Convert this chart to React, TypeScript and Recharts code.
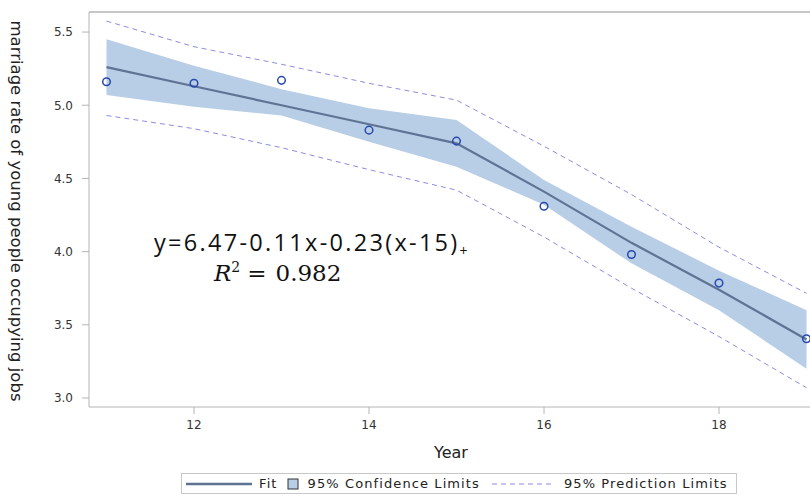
import {
  ComposedChart,
  Area,
  Line,
  Scatter,
  XAxis,
  YAxis,
  ReferenceLine,
} from "recharts";

// year index (20xx) on the x axis
const YEARS = [11, 12, 13, 14, 15, 16, 17, 18, 19];
const OBSERVED = [5.16, 5.15, 5.17, 4.83, 4.755, 4.31, 3.98, 3.785, 3.405];
const FIT = [5.26, 5.13, 5.0, 4.87, 4.74, 4.41, 4.06, 3.74, 3.4];
const CI_LOW = [5.07, 4.99, 4.93, 4.75, 4.58, 4.32, 3.92, 3.6, 3.2];
const CI_HIGH = [5.45, 5.27, 5.11, 4.98, 4.9, 4.49, 4.17, 3.87, 3.6];
const PI_LOW = [4.93, 4.84, 4.71, 4.56, 4.42, 4.1, 3.75, 3.42, 3.07];
const PI_HIGH = [5.575, 5.4, 5.28, 5.15, 5.035, 4.72, 4.39, 4.03, 3.715];

const X_TICKS = [12, 14, 16, 18];
const Y_TICKS = [3.0, 3.5, 4.0, 4.5, 5.0, 5.5];
const X_DOMAIN: [number, number] = [10.8, 19.04];
const Y_MIN = 2.9385;
const Y_MAX = 5.637;

const data = YEARS.map((year, i) => ({
  year,
  obs: OBSERVED[i],
  fit: FIT[i],
  ci: [CI_LOW[i], CI_HIGH[i]],
  piLow: PI_LOW[i],
  piHigh: PI_HIGH[i],
}));

const FRAME = "#b4b4b4";
const BAND = "#b8cde6";
const FIT_COLOR = "#5f7393";
const PI_COLOR = "#8c8ce0";
const DOT_COLOR = "#2748ae";
const SANS = "'DejaVu Sans', Verdana, sans-serif";

const tickStyle = { fill: "#333", fontSize: 12, fontFamily: SANS };

export default function App() {
  return (
    <div
      style={{
        position: "absolute",
        left: 0,
        top: 0,
        width: 810,
        height: 496,
        background: "#fff",
      }}
    >
      <ComposedChart
        width={810}
        height={496}
        data={data}
        margin={{ top: 12, right: 0, bottom: 49, left: 0 }}
      >
        <XAxis
          dataKey="year"
          type="number"
          domain={X_DOMAIN}
          ticks={X_TICKS}
          allowDataOverflow
          height={40}
          tickSize={7}
          tickMargin={6}
          stroke={FRAME}
          tick={tickStyle}
        />
        <YAxis
          type="number"
          domain={[Y_MIN, Y_MAX]}
          ticks={Y_TICKS}
          allowDataOverflow
          width={89}
          tickSize={7}
          tickMargin={9}
          stroke={FRAME}
          tick={tickStyle}
          tickFormatter={(v: number) => v.toFixed(1)}
        />
        <ReferenceLine y={Y_MAX} stroke={FRAME} strokeWidth={1.5} />
        <Area
          dataKey="ci"
          type="linear"
          fill={BAND}
          fillOpacity={1}
          stroke="none"
          isAnimationActive={false}
        />
        <Line
          dataKey="piHigh"
          type="linear"
          stroke={PI_COLOR}
          strokeWidth={1}
          strokeDasharray="5 4"
          dot={false}
          isAnimationActive={false}
        />
        <Line
          dataKey="piLow"
          type="linear"
          stroke={PI_COLOR}
          strokeWidth={1}
          strokeDasharray="5 4"
          dot={false}
          isAnimationActive={false}
        />
        <Line
          dataKey="fit"
          type="linear"
          stroke={FIT_COLOR}
          strokeWidth={2.2}
          dot={false}
          isAnimationActive={false}
        />
        <Scatter
          dataKey="obs"
          fill="none"
          isAnimationActive={false}
          shape={(p: any) => (
            <circle
              cx={p.cx}
              cy={p.cy}
              r={3.8}
              fill="none"
              stroke={DOT_COLOR}
              strokeWidth={1.5}
            />
          )}
        />
      </ComposedChart>

      {/* axis titles and fitted equation */}
      <svg
        width={810}
        height={496}
        style={{ position: "absolute", left: 0, top: 0, pointerEvents: "none" }}
      >
        <text
          transform="translate(11, 211) rotate(90)"
          textAnchor="middle"
          fontFamily={SANS}
          fontSize={16.5}
          fill="#222"
        >
          marriage rate of young people occupying jobs
        </text>
        <text
          x={451}
          y={458}
          textAnchor="middle"
          fontFamily={SANS}
          fontSize={16}
          fill="#222"
        >
          Year
        </text>
        <text
          x={154}
          y={251}
          fontFamily="'Open Sans', sans-serif"
          fontSize={23.5}
          letterSpacing={2.3}
          fill="#111"
        >
          y=6.47-0.11x-0.23(x-15)
          <tspan fontSize={14} dy={5} letterSpacing={0}>+</tspan>
        </text>
        <text x={214} y={281} fontFamily="'DejaVu Serif', serif" fontSize={23} fill="#111">
          <tspan fontStyle="italic">R</tspan>
          <tspan fontSize={14} dy={-9}>2</tspan>
          <tspan dy={9} dx={7}>=</tspan>
          <tspan dx={9}>0.982</tspan>
        </text>
      </svg>

      {/* legend */}
      <div
        style={{
          position: "absolute",
          left: 181,
          top: 473,
          width: 556,
          height: 21,
          border: "1px solid #c8c8c8",
          display: "flex",
          alignItems: "center",
          fontFamily: SANS,
          fontSize: 13,
          letterSpacing: 1.1,
          color: "#222",
          boxSizing: "border-box",
          whiteSpace: "nowrap",
        }}
      >
        <svg width={68} height={10} style={{ marginLeft: 4 }}>
          <line x1={0} y1={5} x2={66} y2={5} stroke={FIT_COLOR} strokeWidth={2.5} />
        </svg>
        <span style={{ marginLeft: 5 }}>Fit</span>
        <svg width={12} height={12} style={{ marginLeft: 9 }}>
          <rect x={1} y={1} width={10} height={10} fill={BAND} stroke="#333" strokeWidth={1} />
        </svg>
        <span style={{ marginLeft: 9 }}>95% Confidence Limits</span>
        <svg width={62} height={10} style={{ marginLeft: 12 }}>
          <line x1={0} y1={5} x2={60} y2={5} stroke={PI_COLOR} strokeWidth={1} strokeDasharray="5 4" />
        </svg>
        <span style={{ marginLeft: 10 }}>95% Prediction Limits</span>
      </div>
    </div>
  );
}
